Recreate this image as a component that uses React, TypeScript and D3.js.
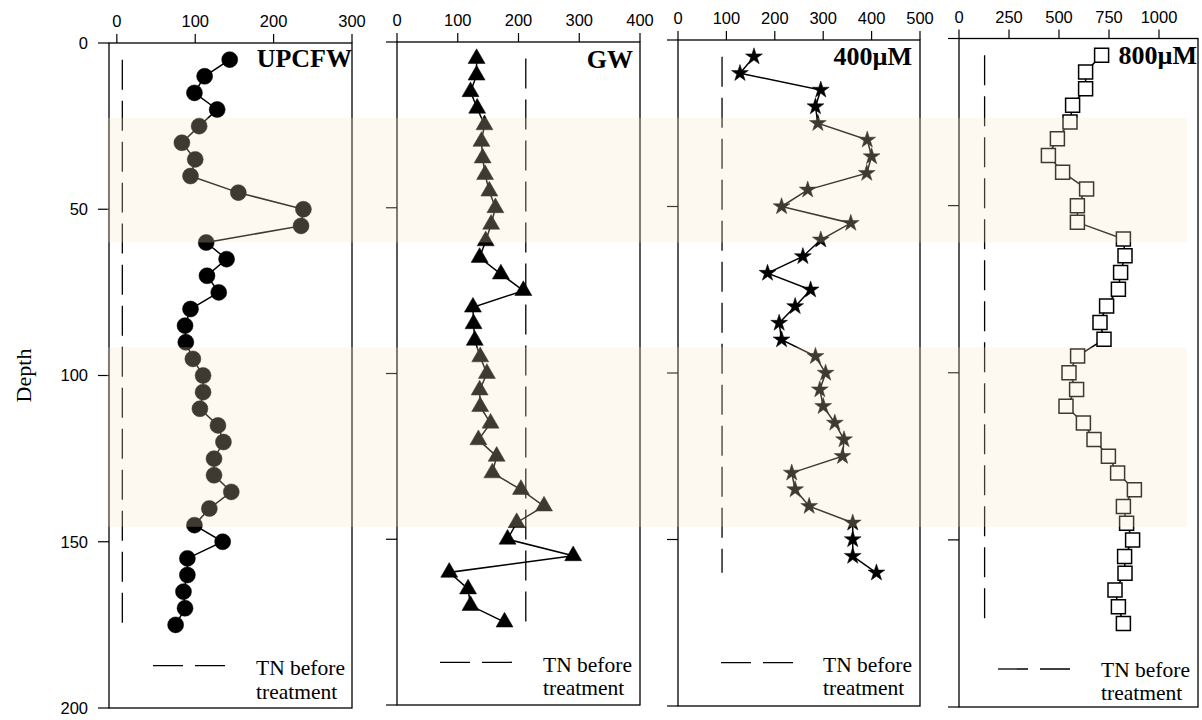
import React from "react";
import * as d3 from "d3";

// Sampling depths shared by all profiles
const depthLevels = [
  5, 10, 15, 20, 25, 30, 35, 40, 45, 50, 55, 60, 65, 70, 75, 80, 85, 90, 95, 100,
  105, 110, 115, 120, 125, 130, 135, 140, 145, 150, 155, 160, 165, 170, 175,
];

// Total nitrogen profiles per treatment
const upcfwTN = [
  144, 112, 99, 128, 105, 83, 100, 94, 155, 238, 235, 114, 140, 115, 130, 94, 87, 88, 97, 110,
  110, 106, 129, 136, 124, 124, 146, 118, 99, 135, 90, 90, 85, 87, 75,
];
const gwTN = [
  131, 131, 121, 132, 144, 139, 141, 145, 152, 162, 155, 146, 136, 171, 208, 125, 126, 128, 137, 148,
  136, 137, 154, 134, 164, 157, 204, 242, 197, 182, 290, 86, 117, 121, 177,
];
const tn400uM = [
  157, 128, 295, 284, 289, 391, 400, 390, 268, 214, 357, 295, 258, 185, 274, 242, 209, 214, 284, 305,
  293, 300, 324, 343, 340, 235, 242, 271, 361, 361, 361, 410,
];
const tn800uM = [
  713, 633, 633, 568, 555, 492, 447, 518, 638, 592, 592, 822, 830, 808, 797, 738, 705, 725, 593, 550,
  588, 535, 622, 675, 747, 793, 877, 822, 838, 868, 828, 830, 780, 797, 822,
];

// TN before treatment, one value per panel
const initialTN = [7, 212, 91, 128];

const panelNames = ["UPCFW", "GW", "400µM", "800µM"];
const xTickValues = [
  [0, 100, 200, 300],
  [0, 100, 200, 300, 400],
  [0, 100, 200, 300, 400, 500],
  [0, 250, 500, 750, 1000],
];
const xDomains: [number, number][] = [
  [-10, 300],
  [0, 400],
  [0, 500],
  [0, 1195],
];
const depthTicks = [0, 50, 100, 150, 200];
const highlightedDepths: [number, number][] = [
  [22.5, 60],
  [91.5, 145.5],
];
const legendLines = ["TN before", "treatment"];
const depthTitle = "Depth";

type MarkerKind = "circle" | "triangle" | "star" | "square";

const seriesList: { values: number[]; marker: MarkerKind }[] = [
  { values: upcfwTN, marker: "circle" },
  { values: gwTN, marker: "triangle" },
  { values: tn400uM, marker: "star" },
  { values: tn800uM, marker: "square" },
];

// Frame geometry of each panel (pixels)
const frames = [
  { left: 109, right: 352, top: 43, bottom: 708, titleX: 352, titleY: 66.5, legX: 153, legY: 665.7, legTextX: 256, legBase: 675 },
  { left: 397, right: 640, top: 42, bottom: 705, titleX: 633, titleY: 68, legX: 440, legY: 662.3, legTextX: 543, legBase: 671.7 },
  { left: 678, right: 920, top: 40, bottom: 706, titleX: 912, titleY: 65, legX: 721, legY: 662.7, legTextX: 823, legBase: 671.7 },
  { left: 959, right: 1198, top: 38.5, bottom: 707, titleX: 1197, titleY: 63.5, legX: 998, legY: 669, legTextX: 1101, legBase: 676.7 },
];

const SANS = "'Liberation Sans', Arial, sans-serif";
const SERIF = "'Liberation Serif', 'Times New Roman', serif";

function markerPath(kind: MarkerKind): string {
  const sym = d3.symbol();
  if (kind === "circle") return sym.type(d3.symbolCircle).size(Math.PI * 64)() as string;
  if (kind === "triangle") return sym.type(d3.symbolTriangle).size(125)() as string;
  if (kind === "star") return sym.type(d3.symbolStar).size(88)() as string;
  return sym.type(d3.symbolSquare).size(196)() as string;
}

function Panel({ index }: { index: number }) {
  const f = frames[index];
  const { values, marker } = seriesList[index];
  const x = d3.scaleLinear().domain(xDomains[index]).range([f.left, f.right]);
  const y = d3.scaleLinear().domain([0, 200]).range([f.top, f.bottom]);
  const depths = depthLevels.slice(0, values.length);
  const pts = values.map((v, i) => [v, depths[i]] as [number, number]);
  const line = d3
    .line<[number, number]>()
    .x((d) => x(d[0]))
    .y((d) => y(d[1]));
  const sym = markerPath(marker);
  const isSquare = marker === "square";

  return (
    <g>
      {/* frame */}
      <rect x={f.left} y={f.top} width={f.right - f.left} height={f.bottom - f.top} fill="none" stroke="#000" strokeWidth={1.3} />
      {/* top axis ticks and labels */}
      {xTickValues[index].map((t) => (
        <g key={t}>
          <line x1={x(t)} x2={x(t)} y1={f.top} y2={f.top - 9} stroke="#000" strokeWidth={1.2} />
          <text x={x(t)} y={f.top - 16} textAnchor="middle" fontFamily={SANS} fontSize={16.5} fill="#000">
            {t}
          </text>
        </g>
      ))}
      {/* depth ticks */}
      {depthTicks.map((t) => (
        <g key={t}>
          <line x1={f.left - 11} x2={f.left} y1={y(t)} y2={y(t)} stroke="#000" strokeWidth={1.2} />
          {index === 0 && (
            <text x={f.left - 21} y={y(t)} dy="0.36em" textAnchor="end" fontFamily={SANS} fontSize={16.5} fill="#000">
              {t}
            </text>
          )}
        </g>
      ))}
      {/* TN before treatment reference line */}
      <line
        x1={x(initialTN[index])}
        x2={x(initialTN[index])}
        y1={y(depths[0])}
        y2={y(depths[depths.length - 1])}
        stroke="#000"
        strokeWidth={1.3}
        strokeDasharray="30,11"
      />
      {/* profile */}
      <path d={line(pts) ?? ""} fill="none" stroke="#000" strokeWidth={1.5} />
      {pts.map((p, i) => (
        <path
          key={i}
          d={sym}
          transform={`translate(${x(p[0])},${y(p[1])})`}
          fill={isSquare ? "#fff" : "#000"}
          stroke="#000"
          strokeWidth={isSquare ? 1.5 : 0.5}
        />
      ))}
      {/* panel title */}
      <text x={f.titleX} y={f.titleY} textAnchor="end" fontFamily={SERIF} fontWeight="bold" fontSize={26} fill="#000">
        {panelNames[index]}
      </text>
      {/* legend */}
      <line x1={f.legX} x2={f.legX + 72} y1={f.legY} y2={f.legY} stroke="#000" strokeWidth={1.3} strokeDasharray="30,12" />
      {legendLines.map((s, i) => (
        <text key={s} x={f.legTextX} y={f.legBase + i * 23.5} fontFamily={SERIF} fontSize={21.5} fill="#000">
          {s}
        </text>
      ))}
    </g>
  );
}

export default function App() {
  const y0 = d3.scaleLinear().domain([0, 200]).range([frames[0].top, frames[0].bottom]);
  return (
    <svg
      width={1202}
      height={720}
      viewBox="0 0 1202 720"
      style={{ position: "absolute", left: 0, top: 0, background: "#fff" }}
    >
      <rect x={0} y={0} width={1202} height={720} fill="#fff" />
      {frames.map((_, i) => (
        <Panel key={i} index={i} />
      ))}
      <text
        transform={`translate(31,${(frames[0].top + frames[0].bottom) / 2}) rotate(-90)`}
        textAnchor="middle"
        fontFamily={SERIF}
        fontSize={22}
        fill="#000"
      >
        {depthTitle}
      </text>
      {/* translucent highlight bands across all panels */}
      {highlightedDepths.map(([a, b], i) => (
        <rect
          key={i}
          x={107}
          y={y0(a)}
          width={1187 - 107}
          height={y0(b) - y0(a)}
          fill="#FAE8C4"
          fillOpacity={0.25}
        />
      ))}
    </svg>
  );
}
